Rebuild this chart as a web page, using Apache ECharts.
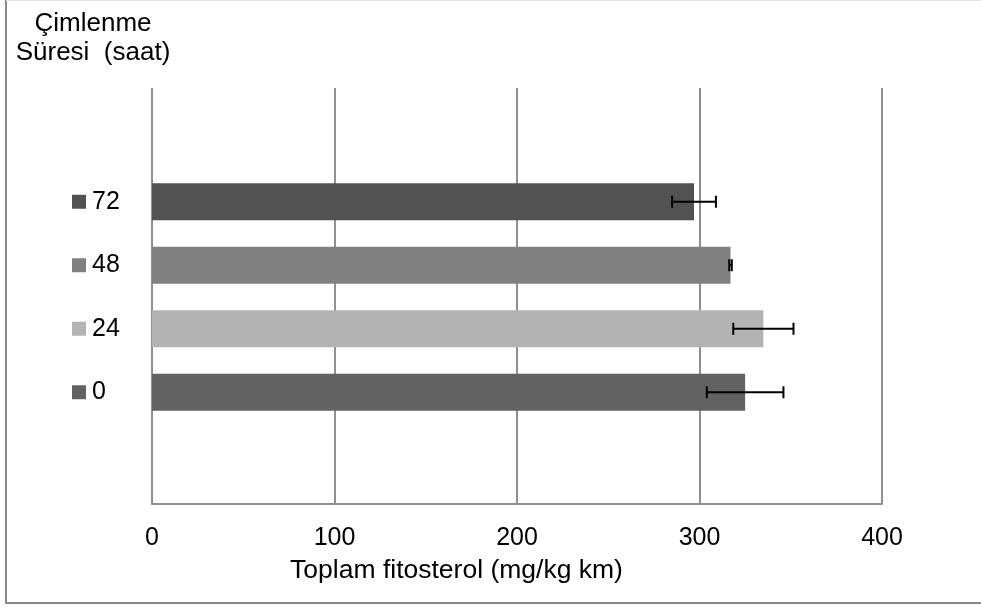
<!DOCTYPE html>
<html>
<head>
<meta charset="utf-8">
<script src="https://cdn.jsdelivr.net/npm/echarts@6/dist/echarts.min.js"></script>
<style>
  html, body { margin: 0; padding: 0; background: #ffffff; }
  #chart { width: 981px; height: 608px; }
</style>
</head>
<body>
<div id="chart"></div>
<script>
// Germination time (hours) and total phytosterol content (mg/kg dry matter)
const categories = ['0', '24', '48', '72'];
const values = [325, 335, 317, 297];
const errors = [21, 16.5, 0.7, 12];
const barColors = ['#626262', '#b3b3b3', '#808080', '#525252'];
const xTicks = [0, 100, 200, 300, 400];

const FONT = 'Liberation Sans, Arial, sans-serif';
const GRID_COLOR = '#8f8f8f';

const chart = echarts.init(document.getElementById('chart'), null, { renderer: 'canvas' });

// rich label styles: a coloured square before each category name
const rich = { t: { fontSize: 25, fontFamily: FONT, color: '#000', padding: [0, 0, 0, 6] } };
categories.forEach((c, i) => {
  rich['s' + i] = { width: 14, height: 14, backgroundColor: barColors[i] };
});

const errorData = categories.map((c, i) => [values[i] - errors[i], values[i] + errors[i], i]);

const option = {
  backgroundColor: '#ffffff',
  animation: false,
  grid: [
    // frame with vertical gridlines
    { left: 152, right: 99, top: 88, bottom: 104 },
    // band holding the bars
    { left: 152, right: 99, top: 170, bottom: 184 }
  ],
  xAxis: [
    {
      gridIndex: 0, type: 'value', min: xTicks[0], max: xTicks[xTicks.length - 1], interval: 100,
      axisLine: { show: true, lineStyle: { color: GRID_COLOR, width: 2 } },
      axisTick: { show: false },
      splitLine: { show: true, lineStyle: { color: GRID_COLOR, width: 2 } },
      axisLabel: { fontSize: 25, fontFamily: FONT, color: '#000', margin: 22 },
      name: 'Toplam fitosterol (mg/kg km)',
      nameLocation: 'middle',
      nameGap: 53,
      nameTextStyle: { fontSize: 26.5, fontFamily: FONT, color: '#000', padding: [0, 121, 0, 0] }
    },
    {
      gridIndex: 1, type: 'value', min: xTicks[0], max: xTicks[xTicks.length - 1], show: false
    }
  ],
  yAxis: [
    {
      gridIndex: 0, type: 'category', data: [],
      axisLine: { show: false }, axisTick: { show: false }, axisLabel: { show: false }, splitLine: { show: false }
    },
    {
      gridIndex: 1, type: 'category', data: categories,
      axisLine: { show: false }, axisTick: { show: false }, splitLine: { show: false },
      axisLabel: {
        margin: 80,
        align: 'left',
        formatter: (v, i) => '{s' + i + '|}{t|' + v + '}',
        rich: rich
      }
    }
  ],
  series: [
    {
      type: 'bar',
      xAxisIndex: 1, yAxisIndex: 1,
      barWidth: 37,
      data: values.map((v, i) => ({ value: v, itemStyle: { color: barColors[i] } })),
      z: 2
    },
    {
      type: 'custom',
      xAxisIndex: 1, yAxisIndex: 1,
      data: errorData,
      z: 3,
      renderItem: function (params, api) {
        const lo = api.coord([api.value(0), api.value(2)]);
        const hi = api.coord([api.value(1), api.value(2)]);
        const cap = 6;
        const style = { stroke: '#000', lineWidth: 2 };
        return {
          type: 'group',
          children: [
            { type: 'line', shape: { x1: lo[0], y1: lo[1], x2: hi[0], y2: hi[1] }, style: style },
            { type: 'line', shape: { x1: lo[0], y1: lo[1] - cap, x2: lo[0], y2: lo[1] + cap }, style: style },
            { type: 'line', shape: { x1: hi[0], y1: hi[1] - cap, x2: hi[0], y2: hi[1] + cap }, style: style }
          ]
        };
      }
    }
  ],
  graphic: [
    {
      type: 'text', x: 93, y: 9,
      style: {
        text: 'Çimlenme\nSüresi  (saat)',
        font: '26px ' + FONT, fill: '#000',
        textAlign: 'center', lineHeight: 29
      }
    },
    {
      type: 'polyline',
      shape: { points: [[6, 0], [6, 603], [985, 603]] },
      style: { stroke: '#888888', lineWidth: 2, fill: null }
    },
    {
      type: 'line',
      shape: { x1: 6, y1: 0.5, x2: 985, y2: 0.5 },
      style: { stroke: '#e6e6e6', lineWidth: 1 }
    }
  ]
};

chart.setOption(option);
</script>
</body>
</html>
